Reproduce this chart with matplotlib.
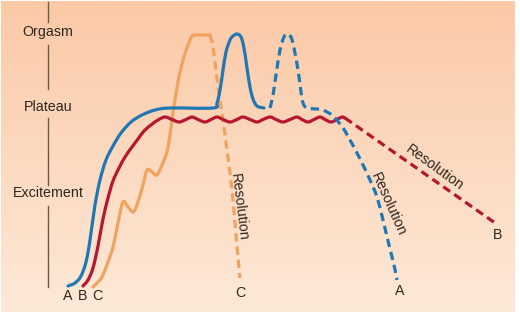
import numpy as np
import matplotlib
matplotlib.use("Agg")
import matplotlib.pyplot as plt
from matplotlib.path import Path
from matplotlib.patches import PathPatch

# ---- data (pixel coordinates) ----
phase_labels = ["Orgasm", "Plateau", "Excitement"]
phase_label_y = [32, 107, 193]
axis_segments = [(2, 22), (45, 89), (118, 185), (206, 287)]

a_solid_x = [68, 75, 81, 86, 90, 95, 100, 106, 113, 121, 131, 142, 155, 170, 213, 217, 220, 223, 226, 230, 233, 237, 241, 244, 247, 250, 253, 257, 264]
a_solid_y = [286, 283, 276, 262, 240, 205, 180, 160, 146, 133, 122, 115, 110, 108, 108, 103, 90, 70, 52, 40, 36, 34, 37, 48, 68, 87, 99, 106, 108]
a_dash_x = [270, 273, 276, 280, 284, 287, 291, 294, 298, 301, 303, 307, 317, 323, 333, 343, 350, 357, 364, 370, 377, 383, 389, 394, 397]
a_dash_y = [108, 95, 75, 50, 37, 34, 37, 48, 70, 92, 103, 108, 109, 110, 116, 128, 140, 153, 167, 180, 197, 220, 245, 265, 280]

b_solid_x = [83, 88, 93, 98, 103, 108, 113, 119, 125, 132, 138, 144, 151, 158, 165, 172, 179, 186, 192, 198, 205, 211, 217, 223, 230, 237, 243, 250, 257, 263, 270, 276, 283, 290, 297, 302, 308, 314, 320, 325, 331, 337, 342, 345]
b_solid_y = [286, 280, 268, 246, 219, 198, 181, 168, 157, 147, 139, 131, 125, 120, 117, 119.5, 122, 119.5, 117, 119.5, 122, 119.5, 117, 119.5, 122, 119.5, 117, 119.5, 122, 119.5, 117, 119.5, 122, 119.5, 117, 119.5, 122, 119.5, 117, 119.5, 122, 119.5, 117, 118]
b_dash_x = [345, 498]
b_dash_y = [118, 225]

c_solid_x = [93, 98, 102, 108, 113, 118, 123, 128, 133, 137, 143, 147, 152, 157, 162, 167, 170, 173, 178, 183, 188, 192, 195, 210]
c_solid_y = [287, 282, 277, 262, 247, 223, 202, 207, 212, 205, 185, 170, 172, 175, 165, 152, 135, 113, 82, 60, 45, 36, 35, 35]
c_dash_x = [210, 213, 218, 223, 227, 232, 236, 240]
c_dash_y = [35, 47, 87, 120, 150, 190, 235, 278]

end_labels = ["A", "B", "C", "C", "A", "B"]
end_label_x = [68, 83, 97, 240, 400, 498]
end_label_y = [296, 296, 296, 293, 291, 235]

res_x = [239, 388, 435]
res_y = [207, 204, 168]
res_rot = [-83, -66, -36]

BLUE = "#1f77b4"
RED = "#b5172f"
ORANGE = "#f0a35e"
INK = "#2e2620"

plt.rcParams["lines.scale_dashes"] = False
fig = plt.figure(figsize=(5.2, 3.17), dpi=100)
fig.patch.set_facecolor("white")
ax = fig.add_axes([0, 0, 1, 1])
ax.set_xlim(0, 520)
ax.set_ylim(317, 0)
ax.axis("off")

# background gradient
top = np.array([251, 201, 166]) / 255.0
bot = np.array([253, 233, 216]) / 255.0
t = np.linspace(0, 1, 256)[:, None, None]
grad = top[None, None, :] * (1 - t) + bot[None, None, :] * t
ax.imshow(grad, extent=[1, 515, 312, 1], aspect="auto", zorder=0, interpolation="bilinear")


def smooth_path(xs, ys):
    pts = np.column_stack([xs, ys]).astype(float)
    n = len(pts)
    verts = [pts[0]]
    codes = [Path.MOVETO]
    for i in range(n - 1):
        p0 = pts[i - 1] if i > 0 else pts[i]
        p1 = pts[i]
        p2 = pts[i + 1]
        p3 = pts[i + 2] if i + 2 < n else pts[i + 1]
        c1 = p1 + (p2 - p0) / 6.0
        c2 = p2 - (p3 - p1) / 6.0
        verts += [c1, c2, p2]
        codes += [Path.CURVE4] * 3
    return Path(verts, codes)


def draw(xs, ys, color, dashed=False, z=3):
    patch = PathPatch(smooth_path(xs, ys), facecolor="none", edgecolor=color,
                      lw=2.3, zorder=z, capstyle="round", joinstyle="round")
    if dashed:
        patch.set_linestyle((0, (6, 3.6)))
        patch.set_capstyle("butt")
    ax.add_patch(patch)


# left axis
for y0, y1 in axis_segments:
    ax.plot([48, 48], [y0, y1], color="#6b5a48", lw=1.0, zorder=2)
for lab, y in zip(phase_labels, phase_label_y):
    ax.text(48, y, lab, ha="center", va="center", fontsize=10.3,
            family="Liberation Sans", color=INK, zorder=4)

draw(c_solid_x, c_solid_y, ORANGE, z=3)
draw(c_dash_x, c_dash_y, ORANGE, dashed=True, z=3)
draw(b_solid_x, b_solid_y, RED, z=4)
draw(b_dash_x, b_dash_y, RED, dashed=True, z=4)
draw(a_solid_x, a_solid_y, BLUE, z=5)
draw(a_dash_x, a_dash_y, BLUE, dashed=True, z=5)

for lab, x, y in zip(end_labels, end_label_x, end_label_y):
    ax.text(x, y, lab, ha="center", va="center", fontsize=10.3,
            family="Liberation Sans", color=INK, zorder=6)
for x, y, r in zip(res_x, res_y, res_rot):
    ax.text(x, y, "Resolution", ha="center", va="center", rotation=r,
            rotation_mode="anchor", fontsize=10.3, family="Liberation Sans",
            color=INK, zorder=6)

fig.savefig("out.png", dpi=100, facecolor="white")
